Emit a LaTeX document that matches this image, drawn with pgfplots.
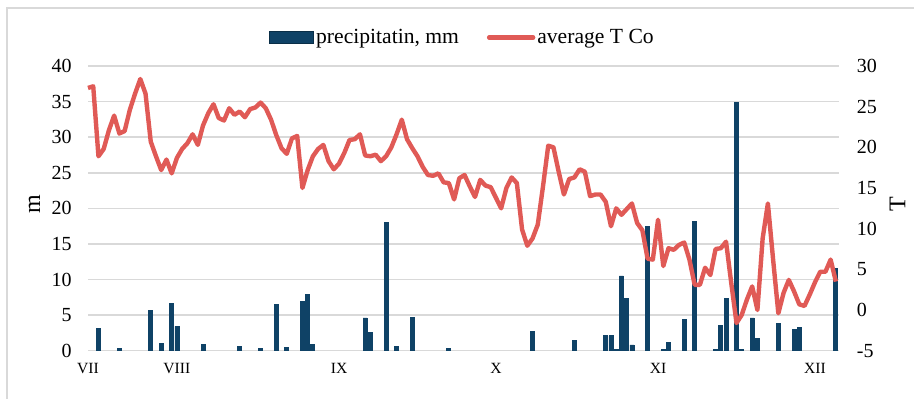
\documentclass[border=0pt]{standalone}
\usepackage{fontspec}
\setmainfont{Liberation Serif}
\usepackage{pgfplots}
\pgfplotsset{compat=1.18}
\definecolor{barblue}{HTML}{0F4266}
\definecolor{linered}{HTML}{E05A56}
\definecolor{gridgray}{HTML}{D9D9D9}
\begin{document}
\begin{tikzpicture}
\path[use as bounding box] (0,0) rectangle (457pt,199.5pt);
\draw[gridgray, line width=0.75pt] (3.5pt,0pt) -- (3.5pt,195.5pt) -- (457pt,195.5pt);
\begin{axis}[
  at={(44pt,24.15pt)}, anchor=south west,
  scale only axis, width=375.5pt, height=142.35pt,
  xmin=0, xmax=143.6, ymin=0, ymax=40,
  ytick={0,5,...,40},
  xtick={0,17,48,78,109,139},
  xticklabels={VII,VIII,IX,X,XI,XII},
  axis line style={draw=none},
  major tick length=0pt,
  ymajorgrids, grid style={draw=gridgray, line width=0.75pt},
  /pgf/number format/assume math mode=true,
  yticklabel style={font=\fontsize{10}{12}\selectfont, inner sep=0pt, xshift=-8pt},
  xticklabel style={font=\fontsize{7.8}{9}\selectfont, inner sep=0pt, yshift=-6pt},
  ylabel={m},
  ylabel style={font=\fontsize{12}{14}\selectfont, at={(axis description cs:-0.0713,0.515)}, anchor=center},
]
\addplot[ybar, bar width=2pt, bar shift=0pt, fill=barblue, draw=barblue] coordinates {
(2,3.1) (6,0.3) (12,5.6) (14,1.0) (16,6.7) (17,3.4) (22,0.9) (29,0.6) (33,0.3)
(36,6.5) (38,0.4) (41,6.9) (42,7.9) (43,0.9) (53,4.6) (54,2.5) (57,18.0) (59,0.6)
(62,4.7) (69,0.3) (85,2.7) (93,1.5) (99,2.2) (100,2.1) (101,0.2) (102,10.5) (103,7.4)
(104,0.8) (107,17.5) (110,0.2) (111,1.1) (114,4.4) (116,18.2) (120,0.2) (121,3.6)
(122,7.4) (124,34.9) (125,0.2) (127,4.6) (128,1.7) (132,3.8) (135,3.0) (136,3.3) (143,11.5)
};
\end{axis}
\begin{axis}[
  at={(44pt,24.15pt)}, anchor=south west,
  scale only axis, width=375.5pt, height=142.35pt,
  xmin=0, xmax=143.6, ymin=-5, ymax=30,
  ytick={-5,0,...,30},
  hide x axis,
  axis y line*=right,
  y axis line style={draw=none},
  major tick length=0pt,
  clip=false,
  /pgf/number format/assume math mode=true,
  yticklabel style={font=\fontsize{10}{12}\selectfont, inner sep=0pt, xshift=8.75pt, anchor=west},
  ylabel={T},
  ylabel style={font=\fontsize{12}{14}\selectfont, at={(axis description cs:1.078,0.515)}, anchor=center},
  legend style={at={(axis description cs:0.241,1.1)}, anchor=west, draw=none, fill=none,
    inner sep=0pt, font=\fontsize{10.8}{12}\selectfont, legend columns=2,
    nodes={inner sep=1pt},
    /tikz/every even column/.append style={column sep=13pt}},
  legend cell align=left,
]
\addlegendimage{legend image code/.code={\fill[barblue, draw=barblue!70!black] (0pt,-3pt) rectangle (22pt,3pt);}}
\addlegendentry{precipitatin, mm}
\addplot[linered, line width=2.2pt, line join=round, no marks,
  legend image code/.code={\draw[linered, line width=2.2pt, line cap=round] (0pt,0pt) -- (22pt,0pt);}]
table {
x y
0 27.3
1 27.5
2 18.9
3 19.8
4 22.1
5 23.9
6 21.7
7 22.0
8 24.6
9 26.6
10 28.4
11 26.6
12 20.7
13 18.9
14 17.2
15 18.5
16 16.8
17 18.7
18 19.8
19 20.5
20 21.6
21 20.3
22 22.7
23 24.2
24 25.3
25 23.6
26 23.3
27 24.8
28 24.0
29 24.4
30 23.7
31 24.7
32 24.9
33 25.5
34 24.8
35 23.4
36 21.5
37 19.9
38 19.2
39 21.1
40 21.4
41 15.0
42 17.2
43 18.9
44 19.8
45 20.3
46 18.3
47 17.3
48 18.0
49 19.3
50 20.9
51 21.0
52 21.6
53 19.0
54 18.9
55 19.1
56 18.3
57 18.9
58 20.0
59 21.6
60 23.4
61 21.0
62 19.9
63 18.9
64 17.6
65 16.6
66 16.5
67 16.8
68 15.7
69 15.6
70 13.6
71 16.2
72 16.6
73 15.2
74 13.9
75 16.0
76 15.3
77 15.1
78 13.8
79 12.5
80 15.0
81 16.3
82 15.6
83 9.9
84 7.9
85 8.8
86 10.5
87 15.2
88 20.2
89 20.0
90 17.0
91 14.2
92 16.1
93 16.3
94 17.3
95 17.0
96 14.0
97 14.2
98 14.2
99 13.3
100 10.3
101 12.5
102 11.7
103 12.4
104 13.1
105 10.7
106 9.8
107 6.3
108 6.2
109 11.1
110 5.4
111 7.6
112 7.4
113 8.0
114 8.3
115 6.2
116 3.1
117 3.1
118 5.2
119 4.3
120 7.5
121 7.6
122 8.4
123 3.3
124 -1.6
125 -0.6
126 1.3
127 2.9
128 0.0
129 8.8
130 13.1
131 6.2
132 -0.4
133 2.1
134 3.7
135 2.3
136 0.7
137 0.5
138 1.9
139 3.4
140 4.7
141 4.7
142 6.2
143 3.5
};
\addlegendentry{average T Co}
\end{axis}
\end{tikzpicture}
\end{document}
